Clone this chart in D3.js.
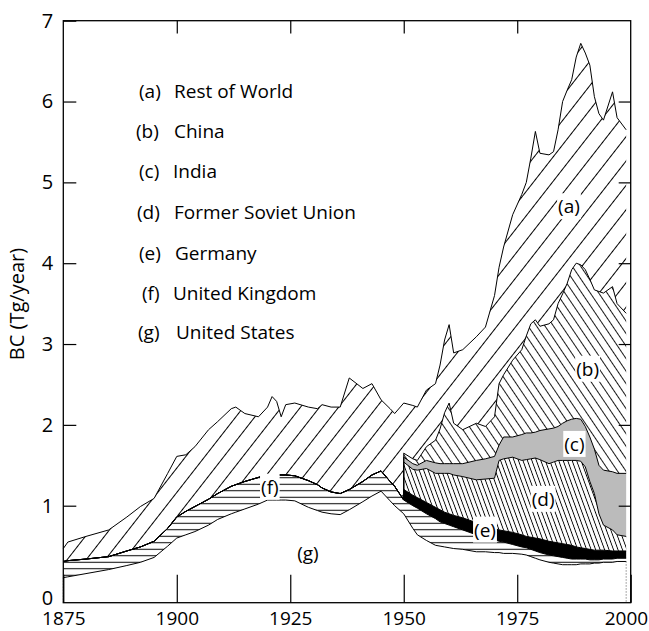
<!DOCTYPE html>
<html>
<head>
<meta charset="utf-8">
<script src="https://cdn.jsdelivr.net/npm/d3@7"></script>
<style>
  body { margin: 0; background: #fff; }
  svg { font-family: "Open Sans", sans-serif; }
</style>
</head>
<body>
<div class="container"></div>
<script>
'use strict';

// Before 1950 the figure only splits out USA and UK, the rest is lumped in (a)
const yearsEarly = [1875, 1876, 1880, 1885, 1889, 1892, 1895, 1898, 1900, 1902, 1904, 1907, 1909, 1912,
  1913, 1915, 1918, 1920, 1921, 1922, 1923, 1924, 1926, 1929, 1931, 1932, 1934, 1936, 1938, 1941,
  1943, 1945, 1947, 1948, 1950];
const usaEarly = [0.11, 0.12, 0.16, 0.21, 0.26, 0.30, 0.36, 0.50, 0.60, 0.64, 0.68, 0.76, 0.83, 0.90,
  0.92, 0.96, 1.02, 1.07, 1.07, 1.07, 1.07, 1.07, 1.06, 0.98, 0.94, 0.92, 0.90, 0.89, 0.95, 1.05,
  1.12, 1.18, 1.06, 1.00, 0.90];
const ukEarly = [0.20, 0.20, 0.18, 0.16, 0.18, 0.19, 0.20, 0.22, 0.26, 0.29, 0.31, 0.32, 0.32, 0.34,
  0.34, 0.34, 0.33, 0.31, 0.31, 0.31, 0.31, 0.31, 0.31, 0.33, 0.32, 0.30, 0.27, 0.26, 0.25, 0.25,
  0.26, 0.25, 0.24, 0.24, 0.17];
const restEarly = [0.16, 0.23, 0.28, 0.33, 0.42, 0.50, 0.53, 0.68, 0.75, 0.70, 0.74, 0.86, 0.89, 0.96,
  0.96, 0.84, 0.75, 0.84, 0.97, 0.91, 0.72, 0.87, 0.90, 0.91, 0.94, 1.03, 1.05, 1.07, 1.38, 1.15,
  1.13, 0.88, 0.90, 0.90, 1.20];

// 1950 onwards, all seven regions
const yearsLate = [1950, 1952, 1953, 1955, 1957, 1958, 1959, 1960, 1961, 1963, 1966, 1968, 1970, 1971,
  1972, 1974, 1976, 1977, 1978, 1979, 1980, 1982, 1983, 1984, 1985, 1986, 1987, 1988, 1989, 1990,
  1991, 1992, 1993, 1994, 1996, 1997, 1999];
const usaLate = [0.90, 0.72, 0.64, 0.57, 0.51, 0.50, 0.49, 0.48, 0.47, 0.46, 0.43, 0.43, 0.42, 0.42,
  0.41, 0.41, 0.40, 0.39, 0.37, 0.35, 0.33, 0.30, 0.29, 0.28, 0.27, 0.27, 0.27, 0.27, 0.28, 0.28,
  0.28, 0.29, 0.29, 0.30, 0.30, 0.31, 0.31];
const ukLate = [0.17, 0.28, 0.33, 0.33, 0.33, 0.30, 0.29, 0.28, 0.27, 0.24, 0.21, 0.18, 0.16, 0.14,
  0.14, 0.11, 0.09, 0.09, 0.09, 0.09, 0.09, 0.09, 0.09, 0.09, 0.09, 0.08, 0.07, 0.07, 0.06, 0.06,
  0.05, 0.04, 0.04, 0.04, 0.04, 0.04, 0.04];
const germanyLate = [0.13, 0.13, 0.13, 0.14, 0.14, 0.15, 0.14, 0.14, 0.14, 0.15, 0.15, 0.15, 0.14, 0.14,
  0.14, 0.15, 0.15, 0.14, 0.15, 0.16, 0.17, 0.17, 0.17, 0.17, 0.17, 0.17, 0.17, 0.15, 0.14, 0.13,
  0.13, 0.12, 0.12, 0.11, 0.10, 0.09, 0.09];
const fsuLate = [0.34, 0.32, 0.34, 0.42, 0.42, 0.45, 0.48, 0.50, 0.50, 0.51, 0.53, 0.57, 0.62, 0.86,
  0.89, 0.93, 0.92, 0.95, 0.97, 0.99, 0.98, 0.96, 0.99, 1.02, 1.03, 1.04, 1.05, 1.07, 1.07, 1.01,
  0.84, 0.70, 0.45, 0.31, 0.26, 0.20, 0.18];
const indiaLate = [0.06, 0.07, 0.06, 0.10, 0.13, 0.12, 0.12, 0.12, 0.14, 0.16, 0.24, 0.25, 0.27, 0.19,
  0.27, 0.25, 0.32, 0.33, 0.32, 0.32, 0.36, 0.43, 0.42, 0.42, 0.46, 0.49, 0.51, 0.52, 0.52, 0.50,
  0.55, 0.55, 0.60, 0.68, 0.72, 0.76, 0.78];
const chinaLate = [0.05, 0.06, 0.06, 0.17, 0.28, 0.43, 0.63, 0.75, 0.50, 0.42, 0.46, 0.40, 0.49, 0.76,
  0.77, 0.95, 1.05, 1.20, 1.35, 1.39, 1.29, 1.30, 1.34, 1.52, 1.60, 1.70, 1.85, 1.92, 1.91, 1.94,
  1.95, 1.97, 2.15, 2.19, 2.29, 2.10, 1.98];
const restLate = [0.62, 0.66, 0.66, 0.70, 0.70, 0.79, 0.90, 0.97, 0.87, 0.99, 1.07, 1.23, 1.50, 1.44,
  1.58, 1.80, 1.92, 1.90, 2.05, 2.33, 2.14, 2.09, 2.08, 2.15, 2.38, 2.39, 2.35, 2.55, 2.74, 2.68,
  2.65, 2.39, 2.20, 2.14, 2.41, 2.30, 2.27];

// stacking order, bottom to top
const keys = ['usa', 'uk', 'germany', 'fsu', 'india', 'china', 'rest'];
const tags = ['(g)', '(f)', '(e)', '(d)', '(c)', '(b)', '(a)'];
const legendTags = ['(a)', '(b)', '(c)', '(d)', '(e)', '(f)', '(g)'];
const legendNames = ['Rest of World', 'China', 'India', 'Former Soviet Union', 'Germany',
  'United Kingdom', 'United States'];
const yTickValues = [0, 1, 2, 3, 4, 5, 6, 7];
const xTickValues = [1875, 1900, 1925, 1950, 1975, 2000];

const W = 649, H = 631;
const margin = { top: 20.7, right: 18.3, bottom: 28.3, left: 63.3 };

const rows = yearsEarly.map((yr, i) => ({
  year: yr, usa: usaEarly[i], uk: ukEarly[i], germany: 0, fsu: 0, india: 0, china: 0, rest: restEarly[i]
})).concat(yearsLate.map((yr, i) => ({
  year: yr, usa: usaLate[i], uk: ukLate[i], germany: germanyLate[i], fsu: fsuLate[i],
  india: indiaLate[i], china: chinaLate[i], rest: restLate[i]
})));

const x = d3.scaleLinear().domain([1875, 2000]).range([margin.left, W - margin.right]);
const y = d3.scaleLinear().domain([-0.2, 7]).range([H - margin.bottom, margin.top]);

const svg = d3.select('.container').append('svg')
  .attr('width', W)
  .attr('height', H);

// hatch patterns
const defs = svg.append('defs');
function hatch(id, spacing, angle, width) {
  defs.append('pattern')
    .attr('id', id)
    .attr('patternUnits', 'userSpaceOnUse')
    .attr('width', spacing)
    .attr('height', spacing)
    .attr('patternTransform', 'rotate(' + angle + ')')
    .append('line')
      .attr('x1', spacing / 2).attr('x2', spacing / 2)
      .attr('y1', -1).attr('y2', spacing + 1)
      .attr('stroke', '#000')
      .attr('stroke-width', width);
}
hatch('hatch-rest', 15, 38, 1);
hatch('hatch-china', 7, -34, 0.9);
hatch('hatch-fsu', 4.2, -20, 0.9);
hatch('hatch-uk', 6.5, 90, 1);

const fills = {
  usa: '#fff',
  uk: 'url(#hatch-uk)',
  germany: '#000',
  fsu: 'url(#hatch-fsu)',
  india: '#bbbbbb',
  china: 'url(#hatch-china)',
  rest: 'url(#hatch-rest)'
};

const stacked = d3.stack().keys(keys)(rows);

const area = d3.area()
  .x(d => x(d.data.year))
  .y0(d => y(d[0]))
  .y1(d => y(d[1]));

const topLine = d3.line()
  .x(d => x(d.data.year))
  .y(d => y(d[1]));

const plot = svg.append('g');

plot.selectAll('path.layer')
  .data(stacked)
  .enter()
  .append('path')
    .attr('class', 'layer')
    .attr('d', area)
    .attr('fill', d => fills[d.key]);

plot.selectAll('path.edge')
  .data(stacked)
  .enter()
  .append('path')
    .attr('class', 'edge')
    .attr('d', topLine)
    .attr('fill', 'none')
    .attr('stroke', '#000')
    .attr('stroke-width', 1)
    .attr('stroke-linejoin', 'round');

// dotted sides under the US curve
const first = rows[0], last = rows[rows.length - 1];
[[first.year, first.usa], [last.year, last.usa]].forEach(p => {
  plot.append('line')
    .attr('x1', x(p[0])).attr('x2', x(p[0]))
    .attr('y1', y(p[1])).attr('y2', y(-0.2))
    .attr('stroke', '#555')
    .attr('stroke-width', 1)
    .attr('stroke-dasharray', '1,2');
});

// labels inside areas, on white boxes
const labelSpots = {
  rest: [1986.4, 4.70], china: [1990.5, 2.69], india: [1987.6, 1.76], fsu: [1980.7, 1.08],
  germany: [1967.9, 0.70], uk: [1920.5, 1.23], usa: [1928.9, 0.41]
};
keys.forEach((k, i) => {
  const g = plot.append('g')
    .attr('transform', 'translate(' + x(labelSpots[k][0]) + ',' + y(labelSpots[k][1]) + ')');
  const t = g.append('text')
    .attr('text-anchor', 'middle')
    .attr('dy', '0.35em')
    .style('font-size', '19px')
    .text(tags[i]);
  if (k !== 'usa') {
    const bb = t.node().getBBox();
    g.insert('rect', 'text')
      .attr('x', bb.x - 1).attr('y', bb.y)
      .attr('width', bb.width + 2).attr('height', bb.height)
      .attr('fill', '#fff');
  }
});

// axes, ticks pointing inward
const axisFont = '20px';
const leftAxis = svg.append('g')
  .attr('transform', 'translate(' + margin.left + ',0)')
  .call(d3.axisLeft(y).tickValues(yTickValues.slice(1)).tickSize(-13).tickPadding(10).tickFormat(d3.format('d')));
svg.append('text')
  .attr('x', margin.left - 10)
  .attr('y', y(-0.2) - 4)
  .attr('dy', '0.32em')
  .attr('text-anchor', 'end')
  .style('font-size', axisFont)
  .text(yTickValues[0]);

const bottomAxis = svg.append('g')
  .attr('transform', 'translate(0,' + (H - margin.bottom) + ')')
  .call(d3.axisBottom(x).tickValues(xTickValues).tickSize(-28).tickPadding(9).tickFormat(d3.format('d')));
bottomAxis.selectAll('.tick text').filter(d => d === 2000)
  .attr('text-anchor', 'end')
  .attr('x', 17);

const topAxis = svg.append('g')
  .attr('transform', 'translate(0,' + margin.top + ')')
  .call(d3.axisTop(x).tickValues(xTickValues.slice(1, -1)).tickSize(-12.7).tickFormat(''));

const rightAxis = svg.append('g')
  .attr('transform', 'translate(' + (W - margin.right) + ',0)')
  .call(d3.axisRight(y).tickValues(yTickValues.slice(1, -1)).tickSize(-12).tickFormat(''));

[leftAxis, bottomAxis, topAxis, rightAxis].forEach(a => {
  a.select('.domain').remove();
  a.selectAll('.tick line').attr('stroke', '#000').attr('stroke-width', 1.2);
  a.selectAll('.tick text').style('font-size', axisFont).style('font-family', '"Open Sans", sans-serif').attr('fill', '#000');
});
bottomAxis.selectAll('.tick text').style('font-size', '19px');

svg.append('rect')
  .attr('x', margin.left)
  .attr('y', margin.top)
  .attr('width', W - margin.left - margin.right)
  .attr('height', H - margin.top - margin.bottom)
  .attr('fill', 'none')
  .attr('stroke', '#000')
  .attr('stroke-width', 1.3);

svg.append('text')
  .attr('transform', 'translate(24,304) rotate(-90)')
  .attr('text-anchor', 'middle')
  .style('font-size', '20px')
  .text('BC (Tg/year)');

// legend (text only)
const legendPos = [[139, 174, 91], [136, 174, 131.7], [139, 173, 171.7], [137, 174, 212.7],
  [139, 175, 253.3], [142, 173, 293.3], [138, 176, 332.7]];
const legend = svg.append('g').style('font-size', '19px');
legendTags.forEach((tag, i) => {
  const p = legendPos[i];
  legend.append('text').attr('x', p[0]).attr('y', p[2]).attr('dy', '0.35em').text(tag);
  legend.append('text').attr('x', p[1]).attr('y', p[2]).attr('dy', '0.35em').text(legendNames[i]);
});
</script>
</body>
</html>
